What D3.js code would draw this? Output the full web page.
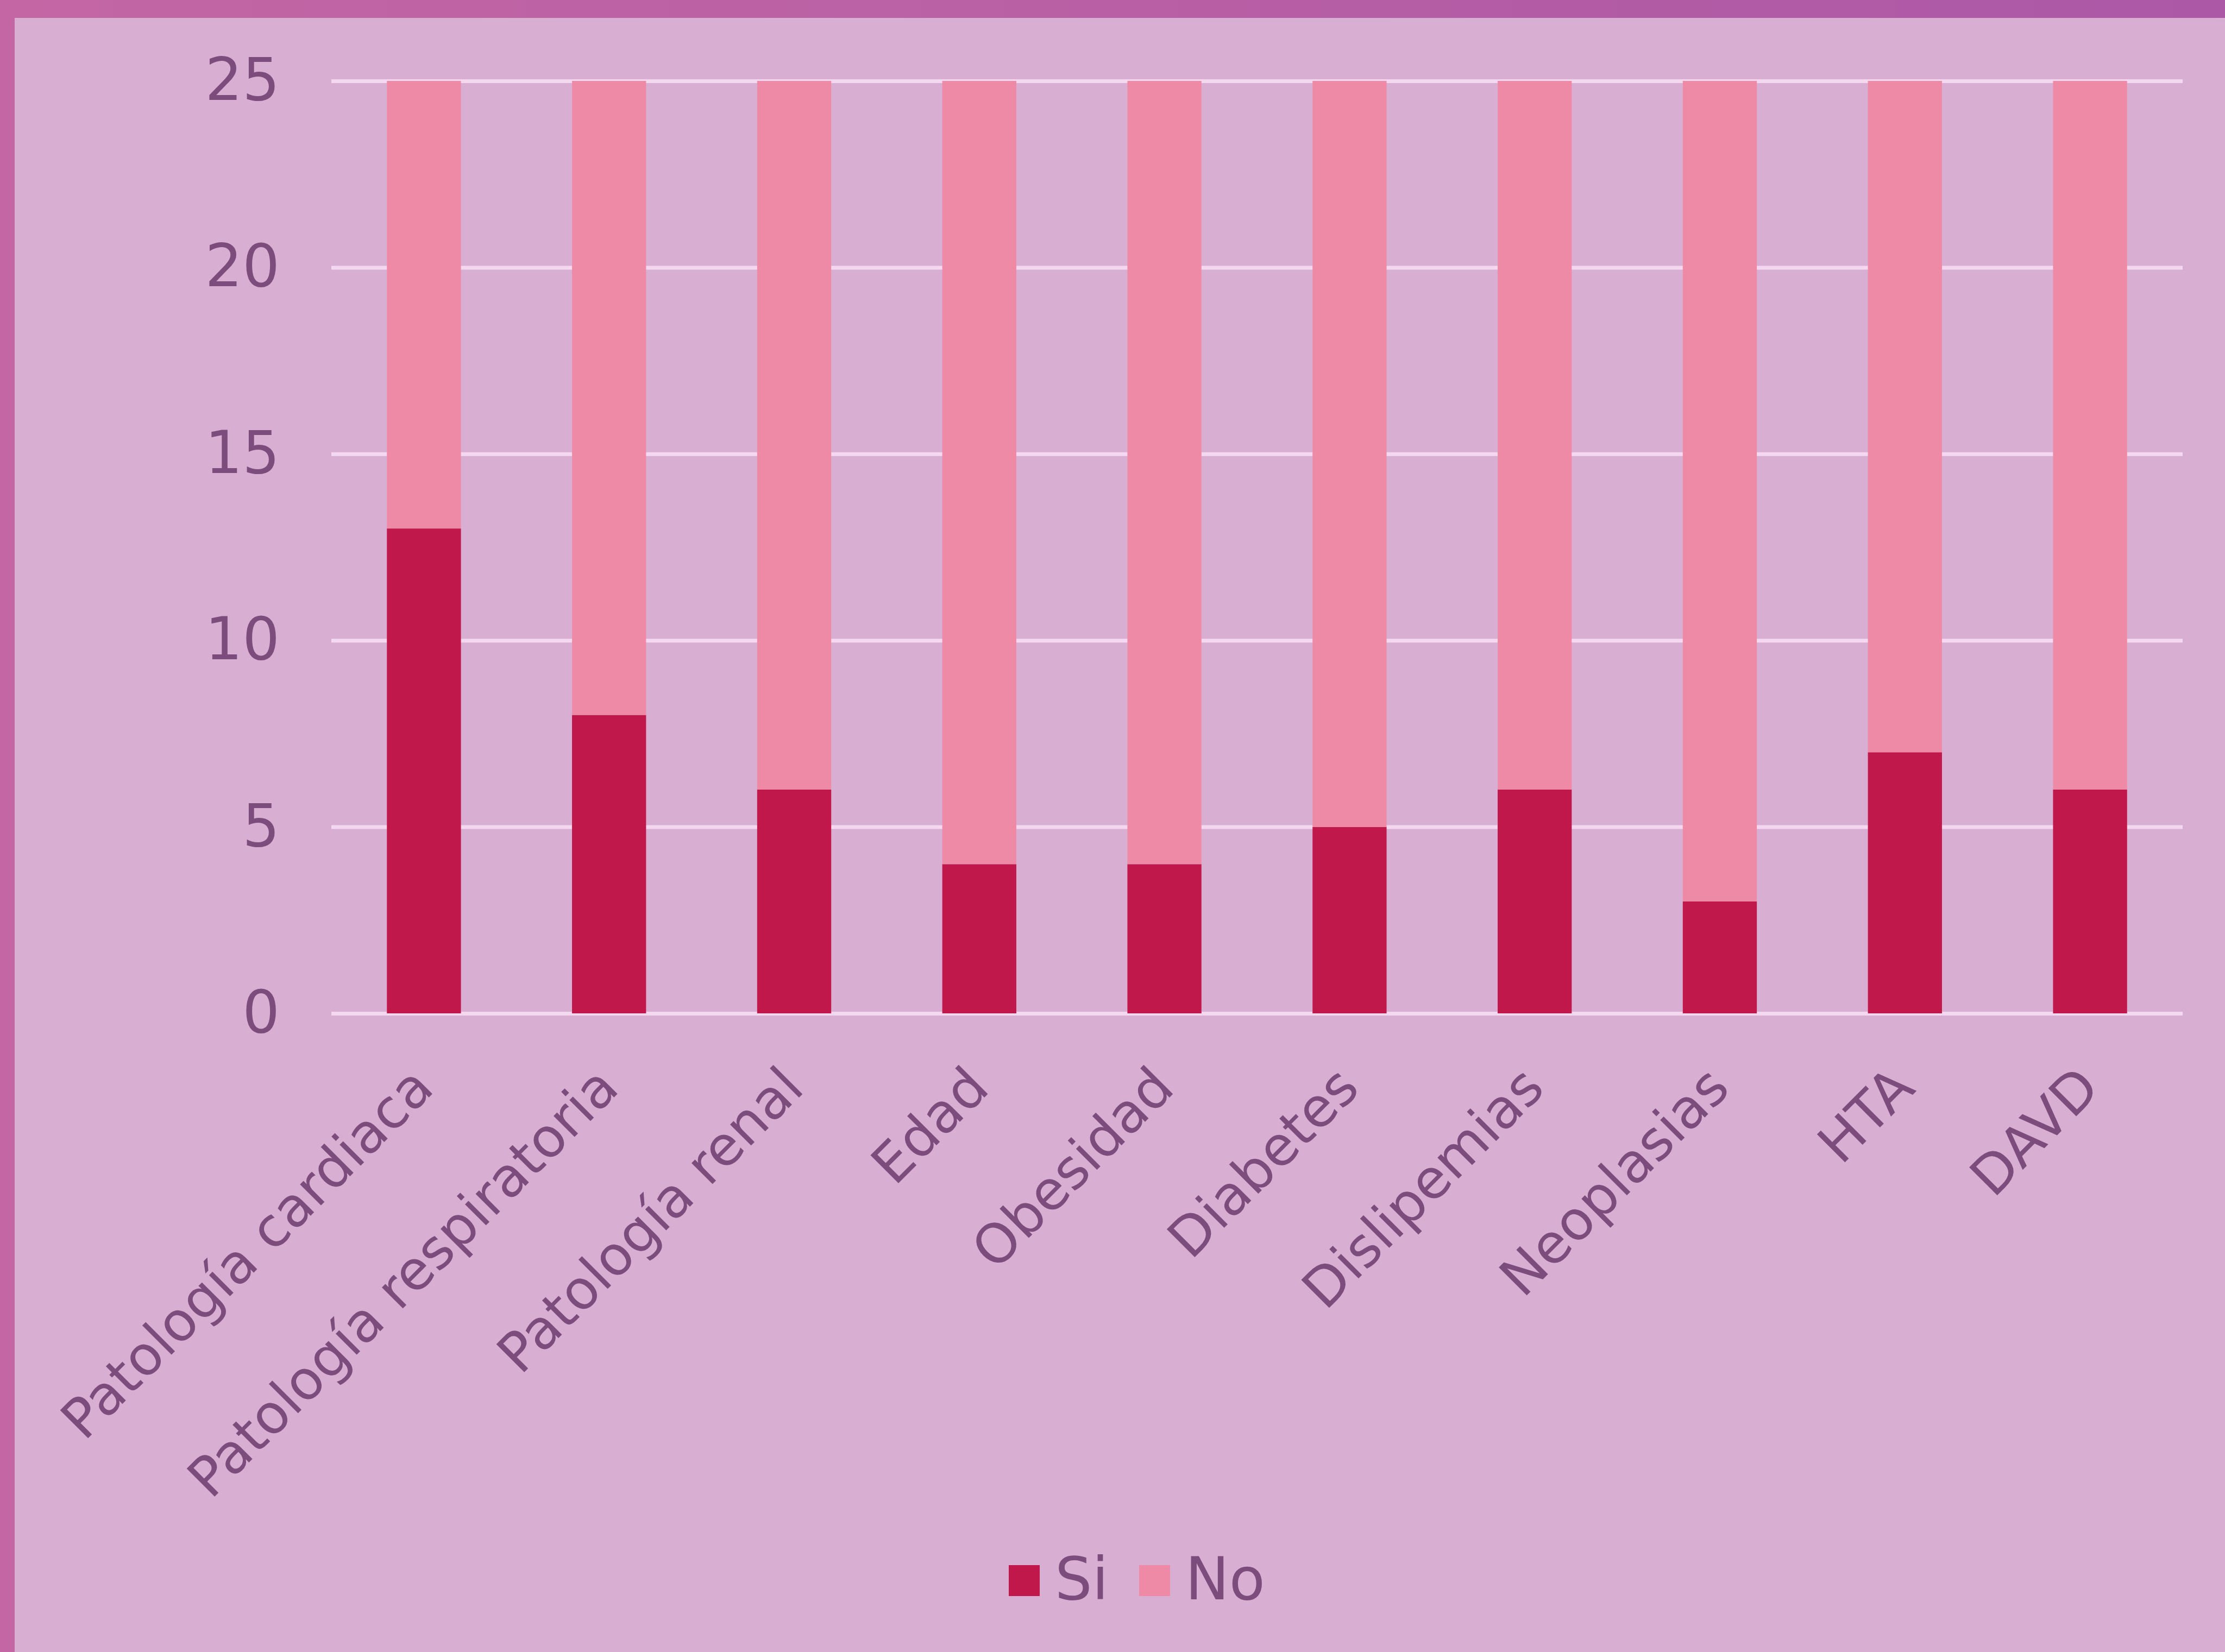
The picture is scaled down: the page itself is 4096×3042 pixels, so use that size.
<!DOCTYPE html>
<html>
<head>
<meta charset="utf-8">
<script src="https://cdn.jsdelivr.net/npm/d3@7"></script>
<style>
body { margin: 0; background: #d8aed2; }
svg { display: block; }
text { font-family: "DejaVu Sans", sans-serif; fill: #7c4d7c; }
</style>
</head>
<body>
<div id="chart"></div>
<script>
// data
const categories = ["Patología cardiaca", "Patología respiratoria", "Patología renal", "Edad",
  "Obesidad", "Diabetes", "Dislipemias", "Neoplasias", "HTA", "DAVD"];
const siValues = [13, 8, 6, 4, 4, 5, 6, 3, 7, 6];
const noValues = [12, 17, 19, 21, 21, 20, 19, 22, 18, 19];
const yTicks = [0, 5, 10, 15, 20, 25];
const seriesNames = ["Si", "No"];
const seriesColors = ["#c0184a", "#ee8aa6"];

const svgWidth = 4096,
  svgHeight = 3042;

const plot = { left: 610, right: 4018, top: 149, bottom: 1866 };

const svg = d3.select("#chart")
  .append("svg")
  .attr("width", svgWidth)
  .attr("height", svgHeight);

// frame: panel plus the darker strip on top and left
const defs = svg.append("defs");
const grad = defs.append("linearGradient").attr("id", "frame");
grad.append("stop").attr("offset", "0%").attr("stop-color", "#c466a4");
grad.append("stop").attr("offset", "100%").attr("stop-color", "#ac58a6");

svg.append("rect").attr("width", svgWidth).attr("height", svgHeight).attr("fill", "#d8aed2");
svg.append("rect").attr("width", svgWidth).attr("height", 33).attr("fill", "url(#frame)");
svg.append("rect").attr("width", 27).attr("height", svgHeight).attr("fill", "#c466a4");

const rows = categories.map((c, i) => ({ cat: c, Si: siValues[i], No: noValues[i] }));
const stacked = d3.stack().keys(seriesNames)(rows);

const x = d3.scaleBand()
  .domain(categories)
  .range([plot.left, plot.right])
  .paddingInner(0.6)
  .paddingOuter(0.3);

const y = d3.scaleLinear()
  .domain([0, 25])
  .range([plot.bottom, plot.top]);

// y axis with gridlines (behind bars)
const yAxis = svg.append("g")
  .attr("transform", `translate(${plot.left},0)`)
  .call(d3.axisLeft(y)
    .tickValues(yTicks)
    .tickSize(-(plot.right - plot.left))
    .tickPadding(95));
yAxis.select(".domain").remove();
yAxis.selectAll(".tick line")
  .attr("stroke", "#f4d8f0")
  .attr("stroke-width", 7);
yAxis.selectAll(".tick text")
  .attr("font-size", 108)
  .attr("font-family", "DejaVu Sans")
  .attr("fill", "#7c4d7c");

// bars
svg.append("g")
  .selectAll("g")
  .data(stacked)
  .join("g")
  .attr("fill", (d, i) => seriesColors[i])
  .selectAll("rect")
  .data(d => d)
  .join("rect")
  .attr("x", d => x(d.data.cat))
  .attr("y", d => y(d[1]))
  .attr("width", x.bandwidth())
  .attr("height", d => y(d[0]) - y(d[1]));

// x axis labels, rotated
const xAxis = svg.append("g")
  .attr("transform", `translate(0,${plot.bottom})`)
  .call(d3.axisBottom(x).tickSize(0));
xAxis.select(".domain").remove();
xAxis.selectAll(".tick text")
  .attr("y", 0)
  .attr("dy", 0)
  .attr("text-anchor", "end")
  .attr("transform", "translate(22,142) rotate(-45)")
  .attr("font-size", 100)
  .attr("font-family", "DejaVu Sans")
  .attr("fill", "#7c4d7c");

// legend
const legendX = [1857, 2097];
const legend = svg.append("g")
  .selectAll("g")
  .data(seriesNames)
  .join("g")
  .attr("transform", (d, i) => `translate(${legendX[i]},2882)`);

legend.append("rect")
  .attr("width", 57)
  .attr("height", 57)
  .attr("fill", (d, i) => seriesColors[i]);

legend.append("text")
  .attr("x", 85)
  .attr("y", 63)
  .attr("font-size", 108)
  .text(d => d);
</script>
</body>
</html>
